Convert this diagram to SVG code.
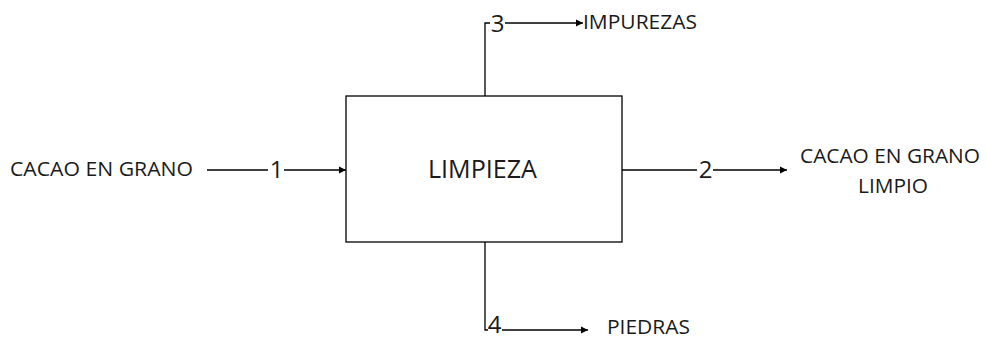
<svg xmlns="http://www.w3.org/2000/svg" width="987" height="339" viewBox="0 0 987 339">
<style>
.ln{stroke:#000;stroke-width:1.3;fill:none}
.t{font-family:"Open Sans","Liberation Sans",sans-serif;fill:#1a1a1a}
.lbl{font-size:20px}
.num{font-size:24px}
</style>
<defs>
<marker id="ah" markerWidth="8" markerHeight="8" refX="7" refY="4" orient="auto" markerUnits="userSpaceOnUse">
<path d="M0,0.5 L7,4 L0,7.5 Z" fill="#000"/>
</marker>
</defs>
<rect width="987" height="339" fill="#fff"/>
<g id="limpieza">
<rect x="346" y="96" width="276" height="146" fill="#fff" stroke="#000" stroke-width="1.3"/>
<text class="t" x="428" y="178" font-size="25" textLength="109" lengthAdjust="spacingAndGlyphs">LIMPIEZA</text>
</g>
<g id="entrada">
<text class="t lbl" x="10" y="176" textLength="183" lengthAdjust="spacingAndGlyphs">CACAO EN GRANO</text>
</g>
<g id="salida">
<text class="t lbl" x="800" y="163" textLength="180" lengthAdjust="spacingAndGlyphs">CACAO EN GRANO</text>
<text class="t lbl" x="858" y="193" textLength="70" lengthAdjust="spacingAndGlyphs">LIMPIO</text>
</g>
<g id="impurezas">
<text class="t lbl" x="583" y="29" textLength="114" lengthAdjust="spacingAndGlyphs">IMPUREZAS</text>
</g>
<g id="piedras">
<text class="t lbl" x="607" y="333.5" textLength="83" lengthAdjust="spacingAndGlyphs">PIEDRAS</text>
</g>
<g id="connectors">
<path class="ln" d="M207,170 H268"/>
<path class="ln" d="M284,170 H346" marker-end="url(#ah)"/>
<text class="t num" x="276.5" y="178" text-anchor="middle">1</text>
<path class="ln" d="M622,170 H697"/>
<path class="ln" d="M713,170 H787" marker-end="url(#ah)"/>
<text class="t num" x="705.5" y="178" text-anchor="middle">2</text>
<path class="ln" d="M485,96 V23 H490"/>
<path class="ln" d="M505,23 H583" marker-end="url(#ah)"/>
<text class="t num" x="497.5" y="32" text-anchor="middle">3</text>
<path class="ln" d="M485,242 V330 H488"/>
<path class="ln" d="M502,330 H588" marker-end="url(#ah)"/>
<text class="t num" x="494.5" y="332.5" text-anchor="middle" font-size="23">4</text>
</g>
</svg>
